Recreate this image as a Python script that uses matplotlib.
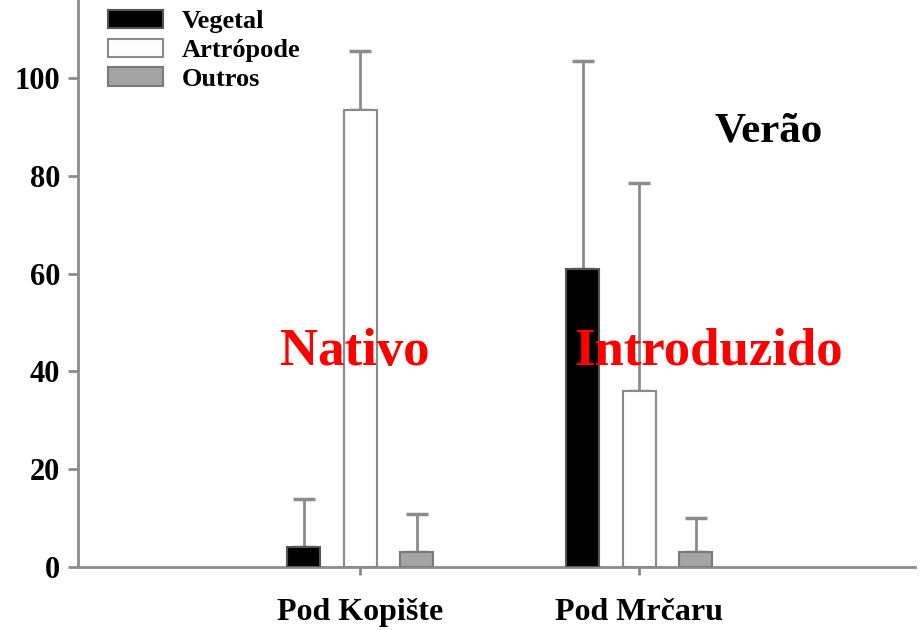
import matplotlib
matplotlib.use("Agg")
import matplotlib.pyplot as plt
import numpy as np

sites = ["Pod Kopište", "Pod Mrčaru"]
categories = ["Vegetal", "Artrópode", "Outros"]
vegetal = [4, 61]
vegetal_err = [10, 42.5]
artropode = [93.5, 36]
artropode_err = [12, 42.5]
outros = [3, 3]
outros_err = [7.8, 7]
yticks = [0, 20, 40, 60, 80, 100]

series = [vegetal, artropode, outros]
errors = [vegetal_err, artropode_err, outros_err]
faces = ["#000000", "#ffffff", "#a4a4a4"]
edges = ["#555555", "#8a8a8a", "#7a7a7a"]

plt.rcParams["font.family"] = ["Liberation Serif", "DejaVu Serif"]
plt.rcParams["font.weight"] = "bold"

fig = plt.figure(figsize=(9.21, 6.30), dpi=100)
ax = fig.add_axes([0.0847, 0.1, 0.909, 0.9])

x = np.arange(1, len(sites) + 1)
width = 0.118
offset = 0.2025
axis_gray = "#8c8c8c"

handles = []
for i, (vals, errs) in enumerate(zip(series, errors)):
    xs = x + (i - 1) * offset
    b = ax.bar(xs, vals, width, color=faces[i], edgecolor=edges[i], linewidth=1.5,
               label=categories[i], zorder=3)
    ax.errorbar(xs, vals, yerr=[np.zeros(len(errs)), errs], fmt="none",
                ecolor=axis_gray, elinewidth=2, capsize=8, capthick=2.5, zorder=2)
    handles.append(b)

ax.set_xlim(-0.0108, 2.989)
ax.set_ylim(0, 116)
ax.set_yticks(yticks)
ax.set_yticklabels([str(v) for v in yticks], fontsize=22, fontweight="bold")
ax.set_xticks(x)
ax.set_xticklabels(sites, fontsize=23, fontweight="bold")
ax.tick_params(axis="x", length=6, width=2, color=axis_gray, pad=16)
ax.tick_params(axis="y", length=7, width=2, color=axis_gray, pad=6)

for s in ["top", "right"]:
    ax.spines[s].set_visible(False)
for s in ["left", "bottom"]:
    ax.spines[s].set_color(axis_gray)
    ax.spines[s].set_linewidth(2)

leg = ax.legend(handles=handles, loc="upper left", bbox_to_anchor=(0.036, 0.983),
                frameon=False, prop={"family": "Liberation Serif", "weight": "bold", "size": 19},
                handlelength=2.08, handleheight=0.72, labelspacing=0.2, handletextpad=0.72,
                borderpad=0, borderaxespad=0)

ax.text(2.464, 89.1, "Verão", fontsize=31, fontweight="bold", ha="center", va="center")
ax.text(0.982, 44, "Nativo", fontsize=38, fontweight="bold", color="#ff0000",
        ha="center", va="center", zorder=5)
ax.text(2.25, 44, "Introduzido", fontsize=38, fontweight="bold", color="#ff0000",
        ha="center", va="center", zorder=5)

fig.savefig("out.png", dpi=100)
